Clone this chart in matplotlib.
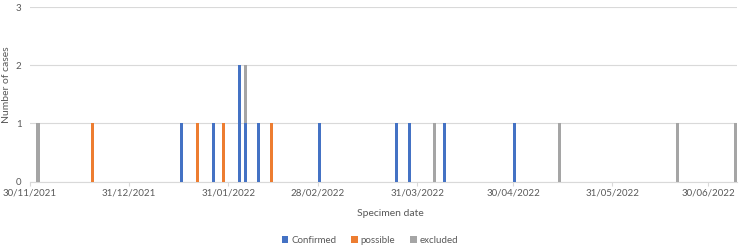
import matplotlib
matplotlib.use("Agg")
import matplotlib.pyplot as plt
import matplotlib.dates as mdates
import numpy as np
import pandas as pd

dates = ["2021-12-02", "2021-12-19", "2022-01-16", "2022-01-21", "2022-01-26",
         "2022-01-29", "2022-02-03", "2022-02-05", "2022-02-09", "2022-02-13",
         "2022-02-28", "2022-03-24", "2022-03-28", "2022-04-05", "2022-04-08",
         "2022-04-30", "2022-05-14", "2022-06-20", "2022-07-08"]
confirmed = [0, 0, 1, 0, 1, 0, 2, 1, 1, 0, 1, 1, 1, 0, 1, 1, 0, 0, 0]
possible  = [0, 1, 0, 1, 0, 1, 0, 0, 0, 1, 0, 0, 0, 0, 0, 0, 0, 0, 0]
excluded  = [1, 0, 0, 0, 0, 0, 0, 1, 0, 0, 0, 0, 0, 1, 0, 0, 1, 1, 1]
tick_labels = ["30/11/2021", "31/12/2021", "31/01/2022", "28/02/2022",
               "31/03/2022", "30/04/2022", "31/05/2022", "30/06/2022"]
series_names = ["Confirmed", "possible", "excluded"]
colors = ["#4472C4", "#ED7D31", "#A5A5A5"]

plt.rcParams['font.family'] = ['Lato', 'DejaVu Sans']
txt = "#595959"

fig = plt.figure(figsize=(7.42, 2.47), dpi=100)
ax = fig.add_axes([30/742, 1 - 181.7/247, (737 - 30)/742, (181.7 - 7)/247])

d = pd.to_datetime(dates)
x = mdates.date2num(d) + 0.5
c = np.array(confirmed); p = np.array(possible); e = np.array(excluded)
w = 0.95
ax.bar(x, c, width=w, color=colors[0], label=series_names[0], zorder=3)
ax.bar(x, p, width=w, bottom=c, color=colors[1], label=series_names[1], zorder=3)
ax.bar(x, e, width=w, bottom=c + p, color=colors[2], label=series_names[2], zorder=3)

start = mdates.date2num(pd.Timestamp("2021-11-30"))
ax.set_xlim(start, start + 221)
ax.set_ylim(0, 3)
ticks = mdates.date2num(pd.to_datetime(tick_labels, format="%d/%m/%Y"))
ax.set_xticks(ticks)
ax.set_xticklabels(tick_labels)
ax.set_yticks([0, 1, 2, 3])
ax.yaxis.grid(True, color="#D9D9D9", linewidth=0.8, zorder=0)
for s in ["top", "right", "left"]:
    ax.spines[s].set_visible(False)
ax.spines["bottom"].set_color("#D9D9D9")
ax.tick_params(axis="x", colors="#D9D9D9", labelcolor=txt, labelsize=7, length=3, pad=2)
ax.tick_params(axis="y", length=0, labelcolor=txt, labelsize=7, pad=6)

fig.text(390/742, 1 - 213/247, "Specimen date", color=txt, fontsize=7.5,
         ha="center", va="center")
fig.text(7/742, 1 - 85/247, "Number of cases", color=txt, fontsize=7.5,
         rotation=90, ha="center", va="center")

leg = fig.legend(loc="center", bbox_to_anchor=(370/742, 1 - 240/247), ncol=3,
                 frameon=False, fontsize=7, handlelength=0.7, handleheight=0.7,
                 handletextpad=0.3, columnspacing=1.5)
for t in leg.get_texts():
    t.set_color(txt)

fig.savefig("out.png", dpi=100)
